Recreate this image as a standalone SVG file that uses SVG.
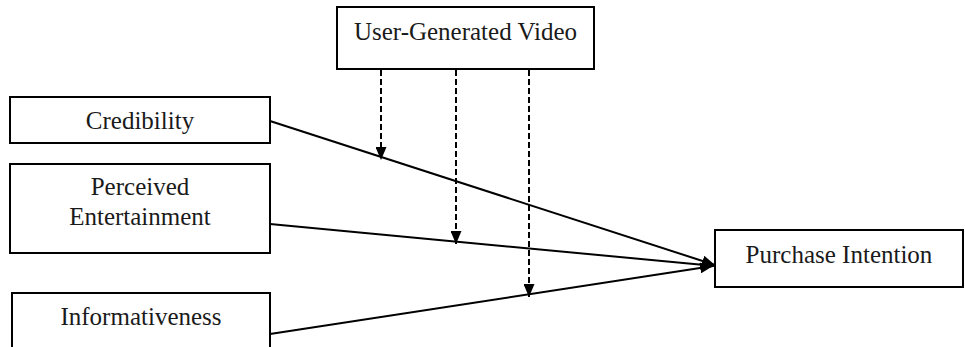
<svg xmlns="http://www.w3.org/2000/svg" width="965" height="347" viewBox="0 0 965 347">
<style>
.box{fill:#fff;stroke:#000;stroke-width:2}
.lbl{font-family:"Liberation Serif","Times New Roman",serif;font-size:25px;fill:#1a1a1a;text-anchor:middle}
.ln{stroke:#000;stroke-width:2;fill:none}
.dash{stroke:#000;stroke-width:2;fill:none;stroke-dasharray:6,3}
</style>
<defs>
<marker id="ah" viewBox="0 0 13 11" refX="13" refY="5.5" markerWidth="13" markerHeight="11" markerUnits="userSpaceOnUse" orient="auto">
<path d="M0,0 L13,5.5 L0,11 z" fill="#000"/>
</marker>
</defs>
<rect width="965" height="347" fill="#fff"/>
<g id="connectors">
<line class="ln" x1="270" y1="121" x2="715" y2="265" marker-end="url(#ah)"/>
<line class="ln" x1="270" y1="224" x2="715" y2="266" marker-end="url(#ah)"/>
<line class="ln" x1="270" y1="334" x2="713" y2="266" marker-end="url(#ah)"/>
<line class="dash" x1="381" y1="70" x2="381" y2="160" marker-end="url(#ah)"/>
<line class="dash" x1="456" y1="70" x2="456" y2="244" marker-end="url(#ah)"/>
<line class="dash" x1="529" y1="70" x2="529" y2="297" marker-end="url(#ah)"/>
</g>
<g id="ugv">
<rect class="box" x="337" y="7" width="257" height="62"/>
<text class="lbl" x="465.5" y="40">User-Generated Video</text>
</g>
<g id="credibility">
<rect class="box" x="10" y="97" width="260" height="46"/>
<text class="lbl" x="140" y="129">Credibility</text>
</g>
<g id="entertainment">
<rect class="box" x="10" y="164" width="260" height="89"/>
<text class="lbl" x="140" y="195">Perceived</text>
<text class="lbl" x="140" y="225">Entertainment</text>
</g>
<g id="informativeness">
<rect class="box" x="12" y="293" width="258" height="70"/>
<text class="lbl" x="141" y="325">Informativeness</text>
</g>
<g id="purchase">
<rect class="box" x="715" y="230" width="248" height="57"/>
<text class="lbl" x="839" y="263">Purchase Intention</text>
</g>
</svg>
